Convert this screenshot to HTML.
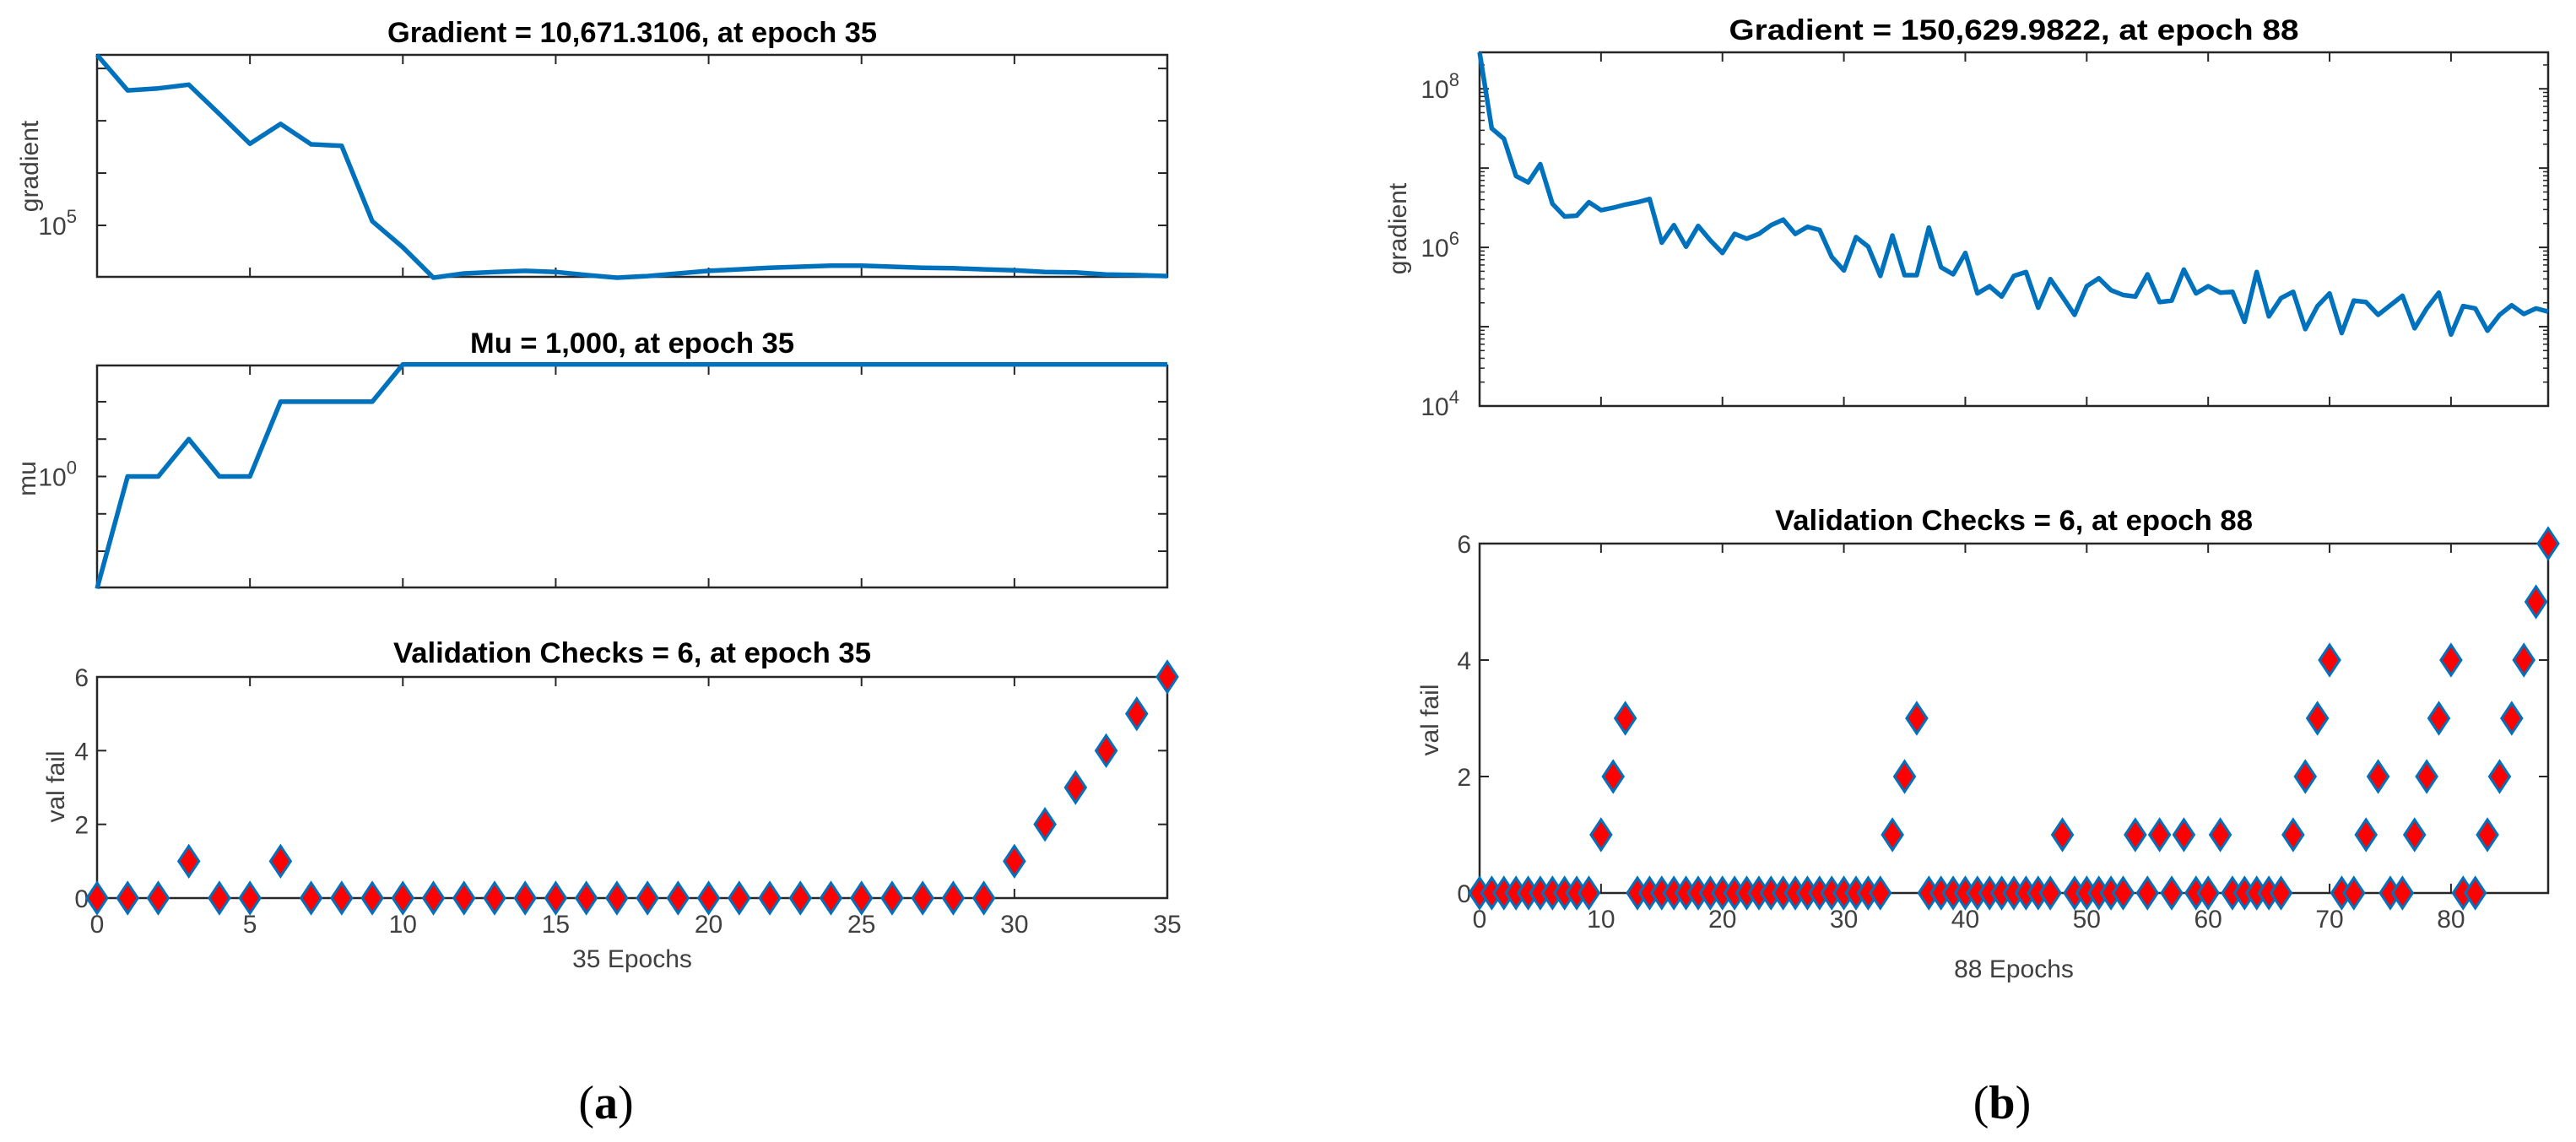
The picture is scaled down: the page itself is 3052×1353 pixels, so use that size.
<!DOCTYPE html>
<html><head><meta charset="utf-8">
<style>
html,body{margin:0;padding:0;background:#fff;}
svg{display:block;}
.title{font-family:"Liberation Sans Narrow","Liberation Sans",sans-serif;font-weight:bold;font-size:34px;fill:#000;}
.tick{font-family:"Liberation Sans Narrow","Liberation Sans",sans-serif;font-size:30px;fill:#404040;}
.lab{font-family:"Liberation Sans",sans-serif;font-size:30px;fill:#404040;}
.cap{font-family:"Liberation Serif",serif;font-size:56px;fill:#000;}
</style></head>
<body>
<svg id="fig" width="3052" height="1353" viewBox="0 0 3052 1353" xmlns="http://www.w3.org/2000/svg"></svg>
<script>
// ---- data: panel (a) ----
const epochsA = [0,1,2,3,4,5,6,7,8,9,10,11,12,13,14,15,16,17,18,19,20,21,22,23,24,25,26,27,28,29,30,31,32,33,34,35];
const gradLogA = [8.26,7.58,7.62,7.69,7.13,6.56,6.94,6.55,6.52,5.08,4.58,4.0,4.08,4.11,4.13,4.11,4.05,4.0,4.03,4.08,4.13,4.16,4.19,4.21,4.23,4.23,4.21,4.19,4.18,4.16,4.14,4.11,4.1,4.06,4.05,4.03];
const muLogA = [-3,0,0,1,0,0,2,2,2,2,3,3,3,3,3,3,3,3,3,3,3,3,3,3,3,3,3,3,3,3,3,3,3,3,3,3];
const valA = [0,0,0,1,0,0,1,0,0,0,0,0,0,0,0,0,0,0,0,0,0,0,0,0,0,0,0,0,0,0,1,2,3,4,5,6];
const xTicksA = [0,5,10,15,20,25,30,35];
// ---- data: panel (b) ----
const gradLogB = [8.46,7.50,7.37,6.90,6.82,7.05,6.55,6.39,6.40,6.57,6.47,6.50,6.54,6.57,6.61,6.06,6.28,6.01,6.27,6.09,5.93,6.17,6.11,6.17,6.28,6.35,6.17,6.26,6.22,5.88,5.71,6.13,6.01,5.64,6.15,5.65,5.65,6.25,5.75,5.66,5.93,5.42,5.51,5.38,5.64,5.69,5.24,5.60,5.38,5.15,5.51,5.61,5.46,5.40,5.38,5.66,5.31,5.33,5.72,5.42,5.51,5.43,5.44,5.06,5.69,5.13,5.36,5.44,4.97,5.26,5.42,4.92,5.33,5.31,5.15,5.27,5.39,4.98,5.23,5.43,4.90,5.26,5.23,4.95,5.15,5.27,5.16,5.23,5.19];
const valB = [0,0,0,0,0,0,0,0,0,0,1,2,3,0,0,0,0,0,0,0,0,0,0,0,0,0,0,0,0,0,0,0,0,0,1,2,3,0,0,0,0,0,0,0,0,0,0,0,1,0,0,0,0,0,1,0,1,0,1,0,0,1,0,0,0,0,0,1,2,3,4,0,0,1,2,0,0,1,2,3,4,0,0,1,2,3,4,5,6];
const xTicksB = [0,10,20,30,40,50,60,70,80];

const NS="http://www.w3.org/2000/svg";
const svg=document.getElementById('fig');
function el(tag,attrs,parent){const e=document.createElementNS(NS,tag);for(const k in attrs)e.setAttribute(k,attrs[k]);(parent||svg).appendChild(e);return e;}
const BLUE="#0072BD", AX="#262626";

function makeAxes(name,box,xmax,ymin,ymax){
  const g=el('g',{});
  
  
  const ax={g,box,xmax,ymin,ymax,
    sx:v=>box.x0+(box.x1-box.x0)*v/xmax,
    sy:v=>box.y1-(box.y1-box.y0)*(v-ymin)/(ymax-ymin)};
  return ax;
}
function frame(ax){
  const b=ax.box;
  const r=el('rect',{x:b.x0,y:b.y0,width:b.x1-b.x0,height:b.y1-b.y0,fill:'none',stroke:AX,'stroke-width':2.5},ax.g);
  
  
}
function xticks(ax,ticks,labels){
  const b=ax.box;
  ticks.forEach(t=>{
    const x=ax.sx(t);
    el('line',{x1:x,x2:x,y1:b.y1,y2:b.y1-11,stroke:AX,'stroke-width':2},ax.g);
    el('line',{x1:x,x2:x,y1:b.y0,y2:b.y0+11,stroke:AX,'stroke-width':2},ax.g);
    if(labels){
      const tx=el('text',{x:x,y:b.y1+41,'text-anchor':'middle',class:'tick'},ax.g);
      tx.textContent=t;
      
      
    }
  });
}
function yticks(ax,ticks,labelFn,minor){
  const b=ax.box;
  ticks.forEach(t=>{
    const y=ax.sy(t);
    el('line',{x1:b.x0,x2:b.x0+11,y1:y,y2:y,stroke:AX,'stroke-width':2},ax.g);
    el('line',{x1:b.x1,x2:b.x1-11,y1:y,y2:y,stroke:AX,'stroke-width':2},ax.g);
    if(labelFn){
      const lab=labelFn(t);
      if(lab!==null){
        const tx=el('text',{x:b.x0-10,y:y+11,'text-anchor':'end',class:'tick'},ax.g);
        
        
        if(typeof lab==='object'){
          tx.appendChild(document.createTextNode(lab.base));
          const s=el('tspan',{dy:-14,'font-size':'22'},tx);s.textContent=lab.exp;
          tx.setAttribute('x',b.x0-24);
        } else tx.textContent=lab;
      }
    }
  });
  if(minor){
    for(let d=Math.floor(ax.ymin);d<ax.ymax;d++){
      for(let m=2;m<10;m++){
        const v=d+Math.log10(m);
        if(v<ax.ymin||v>ax.ymax)continue;
        const y=ax.sy(v);
        el('line',{x1:b.x0,x2:b.x0+6,y1:y,y2:y,stroke:AX,'stroke-width':1.5},ax.g);
        el('line',{x1:b.x1,x2:b.x1-6,y1:y,y2:y,stroke:AX,'stroke-width':1.5},ax.g);
      }
    }
  }
}
function title(ax,txt,y,w){
  const b=ax.box;
  const t=el('text',{x:(b.x0+b.x1)/2,y:y,'text-anchor':'middle',class:'title',textLength:w,lengthAdjust:'spacingAndGlyphs'},ax.g);
  t.textContent=txt;
  
  
}
function ylabel(ax,txt,x,y,size){
  const t=el('text',{x:x,y:y,'text-anchor':'middle',class:'lab','font-size':size,transform:`rotate(-90 ${x} ${y})`},ax.g);
  t.textContent=txt;
  
  
}
function xlabel(ax,txt,y){
  const b=ax.box;
  const t=el('text',{x:(b.x0+b.x1)/2,y:y,'text-anchor':'middle',class:'lab'},ax.g);
  t.textContent=txt;
  
  
}
function line(ax,ys,name){
  const b=ax.box;
  const cid='clip'+Math.round(b.x0)+'_'+Math.round(b.y0);
  const cp=el('clipPath',{id:cid},ax.g);
  el('rect',{x:b.x0-3,y:b.y0-4,width:b.x1-b.x0+6,height:b.y1-b.y0+8},cp);
  const pts=ys.map((v,i)=>ax.sx(i).toFixed(1)+','+ax.sy(v).toFixed(1)).join(' ');
  const p=el('polyline',{points:pts,fill:'none',stroke:BLUE,'stroke-width':5.5,'stroke-linejoin':'round','clip-path':`url(#${cid})`},ax.g);
  
  
}
function diamonds(ax,ys){
  ys.forEach((v,i)=>{
    const x=ax.sx(i),y=ax.sy(v);
    const d=el('polygon',{points:`${x},${y-18} ${x+12},${y} ${x},${y+18} ${x-12},${y}`,fill:'#FF0000',stroke:BLUE,'stroke-width':3},ax.g);
    
    
  });
}
const pow=t=>({base:'10',exp:String(t)});

// ---------- Panel (a) ----------
const aGrad=makeAxes('gradient-plot-a',{x0:115,x1:1383,y0:65,y1:328},35,4.016,8.26);
frame(aGrad); xticks(aGrad,xTicksA,false);
yticks(aGrad,[5,6,7,8],t=>t===5?pow(5):null);
line(aGrad,gradLogA,'gradient-line-a');
title(aGrad,'Gradient = 10,671.3106, at epoch 35',50,580);
ylabel(aGrad,'gradient',45,197,30);

const aMu=makeAxes('mu-plot-a',{x0:115,x1:1383,y0:433,y1:696},35,-2.97,2.97);
frame(aMu); xticks(aMu,xTicksA,false);
yticks(aMu,[-2,-1,0,1,2],t=>t===0?pow(0):null);
line(aMu,muLogA,'mu-line-a');
title(aMu,'Mu = 1,000, at epoch 35',418,384);
ylabel(aMu,'mu',42,567,30);

const aVal=makeAxes('validation-plot-a',{x0:115,x1:1383,y0:802,y1:1064},35,0,6);
frame(aVal); xticks(aVal,xTicksA,true);
yticks(aVal,[0,2,4,6],t=>String(t));
diamonds(aVal,valA);
title(aVal,'Validation Checks = 6, at epoch 35',785,566);
ylabel(aVal,'val fail',76,932,30);
xlabel(aVal,'35 Epochs',1146);

// ---------- Panel (b) ----------
const bGrad=makeAxes('gradient-plot-b',{x0:1753,x1:3019,y0:62,y1:481},88,4,8.46);
frame(bGrad); xticks(bGrad,xTicksB,false);
yticks(bGrad,[4,5,6,7,8],t=>(t%2===0)?pow(t):null,true);
line(bGrad,gradLogB,'gradient-line-b');
title(bGrad,'Gradient = 150,629.9822, at epoch 88',47,675);
ylabel(bGrad,'gradient',1666,271,33);

const bVal=makeAxes('validation-plot-b',{x0:1753,x1:3019,y0:644,y1:1058},88,0,6);
frame(bVal); xticks(bVal,xTicksB,true);
yticks(bVal,[0,2,4,6],t=>String(t));
diamonds(bVal,valB);
title(bVal,'Validation Checks = 6, at epoch 88',628,566);
ylabel(bVal,'val fail',1704,853,33);
xlabel(bVal,'88 Epochs',1158);

// captions
[['(a)',718,'caption-a'],['(b)',2372,'caption-b']].forEach(c=>{
  const t=el('text',{x:c[1],y:1325,'text-anchor':'middle',class:'cap'});
  
  
  t.appendChild(document.createTextNode('('));
  const s=el('tspan',{'font-weight':'bold'},t);s.textContent=c[0][1];
  t.appendChild(document.createTextNode(')'));
});
</script>
</body></html>
